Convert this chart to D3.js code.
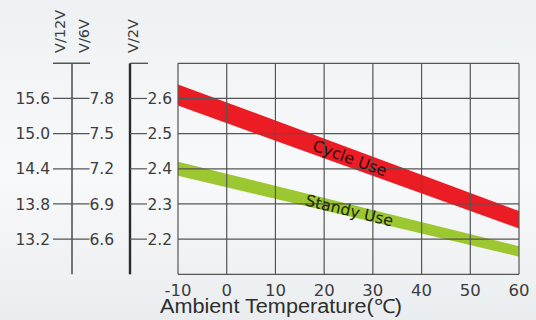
<!DOCTYPE html>
<html>
<head>
<meta charset="utf-8">
<script src="https://cdn.jsdelivr.net/npm/d3@7"></script>
<style>
  html, body { margin: 0; padding: 0; }
  body { width: 536px; height: 320px; overflow: hidden; }
  svg { display: block; }
</style>
</head>
<body>
<svg id="chart" width="536" height="320"></svg>
<script>
// Charging voltage vs. ambient temperature
const temps = [-10, 0, 10, 20, 30, 40, 50, 60];
const bandTemps = [-10, 60];
const cycleUpper = [2.64, 2.28];
const cycleLower = [2.58, 2.23];
const standbyUpper = [2.42, 2.18];
const standbyLower = [2.38, 2.15];
const cellTicks = [2.2, 2.3, 2.4, 2.5, 2.6];
const v12Labels = ["13.2", "13.8", "14.4", "15.0", "15.6"];
const v6Labels = ["6.6", "6.9", "7.2", "7.5", "7.8"];
const v2Labels = ["2.2", "2.3", "2.4", "2.5", "2.6"];

const svg = d3.select("#chart");
const W = 536, H = 320;
const font = "'DejaVu Sans', Verdana, sans-serif";
const titleFont = "'Liberation Sans', Arial, sans-serif";
const textColor = "#3c3c3c";

// background
const defs = svg.append("defs");
const bg = defs.append("linearGradient").attr("id", "bg").attr("x1", 0).attr("y1", 0).attr("x2", 0).attr("y2", 1);
bg.append("stop").attr("offset", "0%").attr("stop-color", "#eef1f3");
bg.append("stop").attr("offset", "55%").attr("stop-color", "#f8f9fa");
bg.append("stop").attr("offset", "100%").attr("stop-color", "#eaedef");
svg.append("rect").attr("width", W).attr("height", H).attr("fill", "url(#bg)");

const plot = { left: 178, right: 519, top: 63.3, bottom: 274.3 };
const x = d3.scaleLinear().domain([-10, 60]).range([plot.left, plot.right]);
const y = d3.scaleLinear().domain([2.1, 2.7]).range([plot.bottom, plot.top]);

// bands
const area = d3.area()
  .x((d, i) => x(bandTemps[i]))
  .y0(d => y(d[0]))
  .y1(d => y(d[1]));
const cycleData = bandTemps.map((t, i) => [cycleLower[i], cycleUpper[i]]);
const standbyData = bandTemps.map((t, i) => [standbyLower[i], standbyUpper[i]]);

svg.append("path").datum(standbyData).attr("d", area).attr("fill", "#9dc731");
svg.append("path").datum(cycleData).attr("d", area).attr("fill", "#ec1c24");

// grid
const gridColor = "#555";
const g = svg.append("g");
g.selectAll(".vx").data(temps).join("line")
  .attr("x1", d => x(d)).attr("x2", d => x(d))
  .attr("y1", plot.top).attr("y2", plot.bottom)
  .attr("stroke", gridColor).attr("stroke-width", 1.2);
const yGrid = d3.range(2.1, 2.71, 0.1);
g.selectAll(".hy").data(yGrid).join("line")
  .attr("x1", plot.left).attr("x2", plot.right)
  .attr("y1", d => y(d)).attr("y2", d => y(d))
  .attr("stroke", gridColor).attr("stroke-width", 1.2);

// band labels, rotated along each band
function bandLabel(text, upper, lower, t, color) {
  const mid = i => (upper[i] + lower[i]) / 2;
  const x0 = x(bandTemps[0]), x1 = x(bandTemps[1]);
  const y0 = y(mid(0)), y1 = y(mid(1));
  const ang = Math.atan2(y1 - y0, x1 - x0) * 180 / Math.PI;
  const px = x(t);
  const py = y0 + (y1 - y0) * (px - x0) / (x1 - x0);
  svg.append("text")
    .attr("transform", `translate(${px},${py}) rotate(${ang})`)
    .attr("text-anchor", "middle").attr("dy", "0.36em")
    .attr("font-family", font).attr("font-size", 15.8)
    .attr("fill", color).text(text);
}
bandLabel("Cycle Use", cycleUpper, cycleLower, 25.3, "#2e0a0c");
bandLabel("Standy Use", standbyUpper, standbyLower, 25.2, "#1c2608");

// x axis labels
svg.selectAll(".xl").data(temps).join("text")
  .attr("x", d => x(d)).attr("y", 296)
  .attr("text-anchor", "middle")
  .attr("font-family", font).attr("font-size", 16.5)
  .attr("fill", textColor).text(d => d);
svg.append("text")
  .attr("x", 160).attr("y", 313)
  .attr("font-family", titleFont).attr("font-size", 19.5)
  .attr("textLength", 242).attr("lengthAdjust", "spacingAndGlyphs")
  .attr("fill", "#2e2e2e").text("Ambient Temperature(℃)");

// left voltage scales
const axisColor = "#555";
const ax12 = 72, ax2 = 130;
// V/12V - V/6V shared axis
svg.append("line").attr("x1", ax12).attr("x2", ax12)
  .attr("y1", plot.top).attr("y2", plot.bottom)
  .attr("stroke", axisColor).attr("stroke-width", 1.6);
svg.append("line").attr("x1", 53).attr("x2", 90)
  .attr("y1", plot.top).attr("y2", plot.top)
  .attr("stroke", axisColor).attr("stroke-width", 1.4);
svg.selectAll(".t12").data(cellTicks).join("line")
  .attr("x1", 53).attr("x2", 89.5)
  .attr("y1", d => y(d)).attr("y2", d => y(d))
  .attr("stroke", axisColor).attr("stroke-width", 1.2);
svg.selectAll(".l12").data(cellTicks).join("text")
  .attr("x", 50).attr("y", d => y(d)).attr("dy", "0.36em")
  .attr("text-anchor", "end")
  .attr("font-family", font).attr("font-size", 15.5)
  .attr("fill", textColor).text((d, i) => v12Labels[i]);
svg.selectAll(".l6").data(cellTicks).join("text")
  .attr("x", 89.5).attr("y", d => y(d)).attr("dy", "0.36em")
  .attr("font-family", font).attr("font-size", 15.5)
  .attr("fill", textColor).text((d, i) => v6Labels[i]);

// V/2V axis
svg.append("line").attr("x1", ax2).attr("x2", ax2)
  .attr("y1", plot.top).attr("y2", plot.bottom)
  .attr("stroke", "#2a2a2a").attr("stroke-width", 2.4);
svg.append("line").attr("x1", ax2).attr("x2", 148)
  .attr("y1", plot.top).attr("y2", plot.top)
  .attr("stroke", axisColor).attr("stroke-width", 1.4);
svg.selectAll(".t2").data(cellTicks).join("line")
  .attr("x1", ax2).attr("x2", 147)
  .attr("y1", d => y(d)).attr("y2", d => y(d))
  .attr("stroke", axisColor).attr("stroke-width", 1.2);
svg.selectAll(".l2").data(cellTicks).join("text")
  .attr("x", 147.5).attr("y", d => y(d)).attr("dy", "0.36em")
  .attr("font-family", font).attr("font-size", 15.5)
  .attr("fill", textColor).text((d, i) => v2Labels[i]);

// axis titles
function vTitle(text, cx) {
  svg.append("text")
    .attr("transform", `translate(${cx},53) rotate(-90)`)
    .attr("font-family", font).attr("font-size", 14.5)
    .attr("fill", textColor).text(text);
}
vTitle("V/12V", 64.5);
vTitle("V/6V", 88.5);
vTitle("V/2V", 138);
</script>
</body>
</html>
